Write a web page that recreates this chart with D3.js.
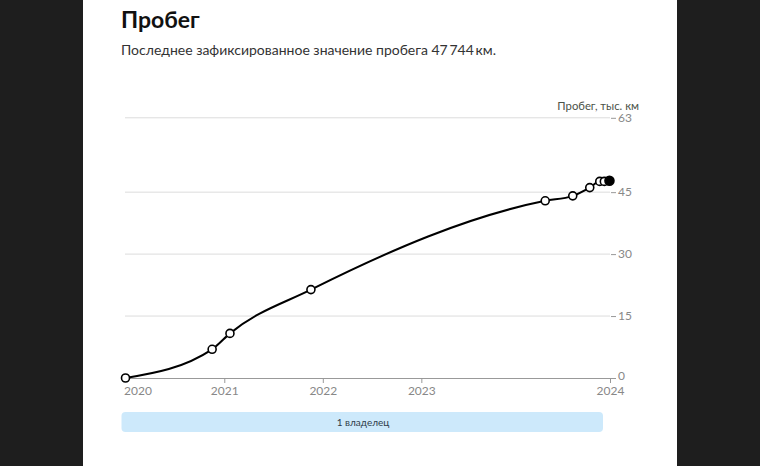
<!DOCTYPE html>
<html><head><meta charset="utf-8">
<script src="https://cdn.jsdelivr.net/npm/d3@7"></script>
<style>
html,body{margin:0;padding:0;background:#1e1e1e;}
svg{display:block;}
</style></head><body>
<svg id="c" width="760" height="466"></svg>
<script>
const dates = ["2020-01-01","2020-11-17","2021-01-22","2021-11-18","2024-04-04","2024-07-15","2024-09-16","2024-10-23","2024-11-09","2024-11-28"];
const mileage = [0, 6.95, 10.8, 21.4, 42.9, 44.1, 46.1, 47.6, 47.6, 47.744];
const yTicks = [0, 15, 30, 45, 63];
const xTickDates = ["2020-01-01","2021-01-01","2022-01-01","2023-01-01","2024-11-30"];
const xTickLabels = ["2020","2021","2022","2023","2024"];
const owners = ["1 владелец"];

const parse = d3.timeParse("%Y-%m-%d");
const data = dates.map((d,i)=>({date:parse(d), v:mileage[i]}));

const svg = d3.select("#c");
svg.append("rect").attr("x",83).attr("y",0).attr("width",594).attr("height",466).attr("fill","#fff");

const font = "Lato, 'Open Sans', sans-serif";
svg.append("text").attr("x",121).attr("y",28).attr("font-family",font).attr("font-weight",700)
  .attr("font-size",23).attr("fill","#111").text("Пробег");
svg.append("text").attr("x",121).attr("y",55).attr("font-family",font)
  .attr("font-size",14).attr("fill","#333").text("Последнее зафиксированное значение пробега 47\u2009744\u2009км.");

const x = d3.scaleTime().domain([parse("2020-01-01"), parse("2024-11-30")]).range([125.5, 610]);
const y = d3.scaleLinear().domain([0, 63]).range([378, 117.8]);

// grid
const g = svg.append("g");
g.selectAll("line.grid").data(yTicks.filter(t=>t>0)).enter().append("line")
  .attr("x1",125).attr("x2",610).attr("y1",d=>y(d)).attr("y2",d=>y(d))
  .attr("stroke","#dcdcdc").attr("stroke-width",1);

// right axis
const yAxis = d3.axisRight(y).tickValues(yTicks).tickSize(5).tickPadding(2);
const ya = svg.append("g").attr("transform","translate(611,0)").call(yAxis);
ya.select(".domain").remove();
ya.selectAll("line").attr("stroke","#999");
ya.selectAll("text").attr("font-family",font).attr("font-size",12).attr("fill","#888");
ya.selectAll(".tick").filter(d=>d===0).select("text").attr("y",-2.5);

svg.append("text").attr("x",639).attr("y",109.5).attr("text-anchor","end").attr("font-family",font)
  .attr("font-size",11.3).attr("fill","#4a5248").text("Пробег, тыс. км");

// bottom axis
const xAxis = d3.axisBottom(x).tickValues(xTickDates.map(parse))
  .tickFormat((d,i)=>xTickLabels[i]).tickSize(5).tickPadding(3.5).tickSizeOuter(0);
const xa = svg.append("g").attr("transform","translate(0,378)").call(xAxis);
xa.select(".domain").attr("stroke","#999").attr("stroke-width",1.2);
xa.selectAll("line").attr("stroke","#999");
xa.selectAll(".tick").filter((d,i)=>i===0).select("line").remove();
xa.selectAll("text").attr("font-family",font).attr("font-size",12).attr("fill","#888");
xa.selectAll(".tick").filter((d,i)=>i===0).select("text").attr("text-anchor","start").attr("x",-2);

// line
const line = d3.line().x(d=>x(d.date)).y(d=>y(d.v)).curve(d3.curveMonotoneX);
svg.append("path").datum(data).attr("d",line).attr("fill","none").attr("stroke","#000").attr("stroke-width",2);

svg.selectAll("circle.pt").data(data).enter().append("circle")
  .attr("cx",d=>x(d.date)).attr("cy",d=>y(d.v))
  .attr("r",(d,i)=>i===data.length-1?4.5:4)
  .attr("fill",(d,i)=>i===data.length-1?"#000":"#fff")
  .attr("stroke","#000").attr("stroke-width",1.6);

// owners bar
const ob = svg.append("g");
ob.selectAll("rect").data(owners).enter().append("rect")
  .attr("x",x(parse("2020-01-01"))-4).attr("y",412).attr("width",x(parse("2024-11-30"))-x(parse("2020-01-01"))-3)
  .attr("height",20).attr("rx",4).attr("fill","#cde9fb");
ob.selectAll("text").data(owners).enter().append("text")
  .attr("x",363).attr("y",426).attr("text-anchor","middle").attr("font-family",font)
  .attr("font-size",10).attr("fill","#2f3d4a").text(d=>d);
</script>
</body></html>
